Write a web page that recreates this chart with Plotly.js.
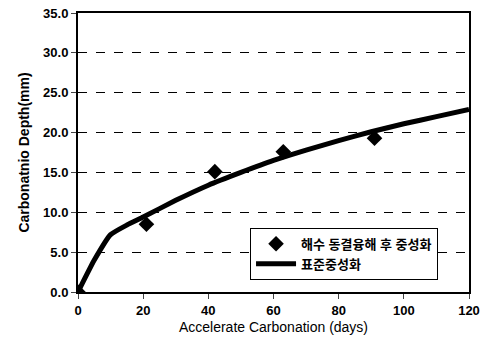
<!DOCTYPE html>
<html><head><meta charset="utf-8">
<script src="https://cdn.plot.ly/plotly-3.0.1.min.js"></script>
<style>body{margin:0;background:#fff}#c{width:489px;height:346px}</style>
</head><body><div id="c"></div>
<script>
const pointDays = [0, 21, 42, 63, 91];
const pointDepth = [0, 8.5, 15.1, 17.6, 19.3];
const curveDays = [0, 5, 10, 15, 20, 30, 40, 50, 60, 70, 80, 90, 100, 110, 120];
const curveDepth = [0, 4.0, 7.2, 8.4, 9.4, 11.5, 13.4, 15.0, 16.5, 17.8, 19.0, 20.1, 21.1, 22.0, 22.9];
const seriesNames = ['해수 동결융해 후 중성화', '표준중성화'];
const xTicks = [0, 20, 40, 60, 80, 100, 120];
const yTicks = [0, 5, 10, 15, 20, 25, 30, 35];

const F = 'Arial, "Liberation Sans", "Noto Sans CJK KR", sans-serif';
const traces = [
  {x: pointDays, y: pointDepth, mode: 'markers', name: seriesNames[0],
   marker: {symbol: 'diamond', size: 12, color: '#000'}},
  {x: curveDays, y: curveDepth, mode: 'lines', name: seriesNames[1],
   line: {color: '#000', width: 5, shape: 'spline', smoothing: 0.4}}
];
const layout = {
  width: 489, height: 346,
  margin: {l: 78, r: 20, t: 13, b: 54},
  paper_bgcolor: '#fff', plot_bgcolor: '#fff',
  font: {family: F, size: 13, color: '#000'},
  showlegend: true,
  legend: {x: 0.44, y: 0.23, xanchor: 'left', yanchor: 'top',
           bordercolor: '#000', borderwidth: 1, bgcolor: '#fff',
           font: {family: F, size: 13, color: '#000', weight: 'bold'},
           itemwidth: 40, tracegroupgap: 2},
  xaxis: {range: [0, 120], tickvals: xTicks, ticks: 'outside', ticklen: 5,
          showline: true, linecolor: '#000', linewidth: 2, mirror: true,
          showgrid: false, zeroline: false,
          tickfont: {family: F, size: 13, weight: 'bold'},
          title: {text: 'Accelerate Carbonation (days)', font: {family: F, size: 14}, standoff: 6}},
  yaxis: {range: [0, 35], tickvals: yTicks, tickformat: '.1f', ticks: 'outside', ticklen: 5,
          showline: true, linecolor: '#000', linewidth: 2, mirror: true,
          showgrid: true, gridcolor: '#000', griddash: 'dash', gridwidth: 1,
          zeroline: false,
          tickfont: {family: F, size: 13, weight: 'bold'},
          title: {text: 'Carbonatnio Depth(mm)', font: {family: F, size: 14, weight: 'bold'}, standoff: 10}}
};
Plotly.newPlot('c', traces, layout, {displayModeBar: false, staticPlot: true});
</script></body></html>
